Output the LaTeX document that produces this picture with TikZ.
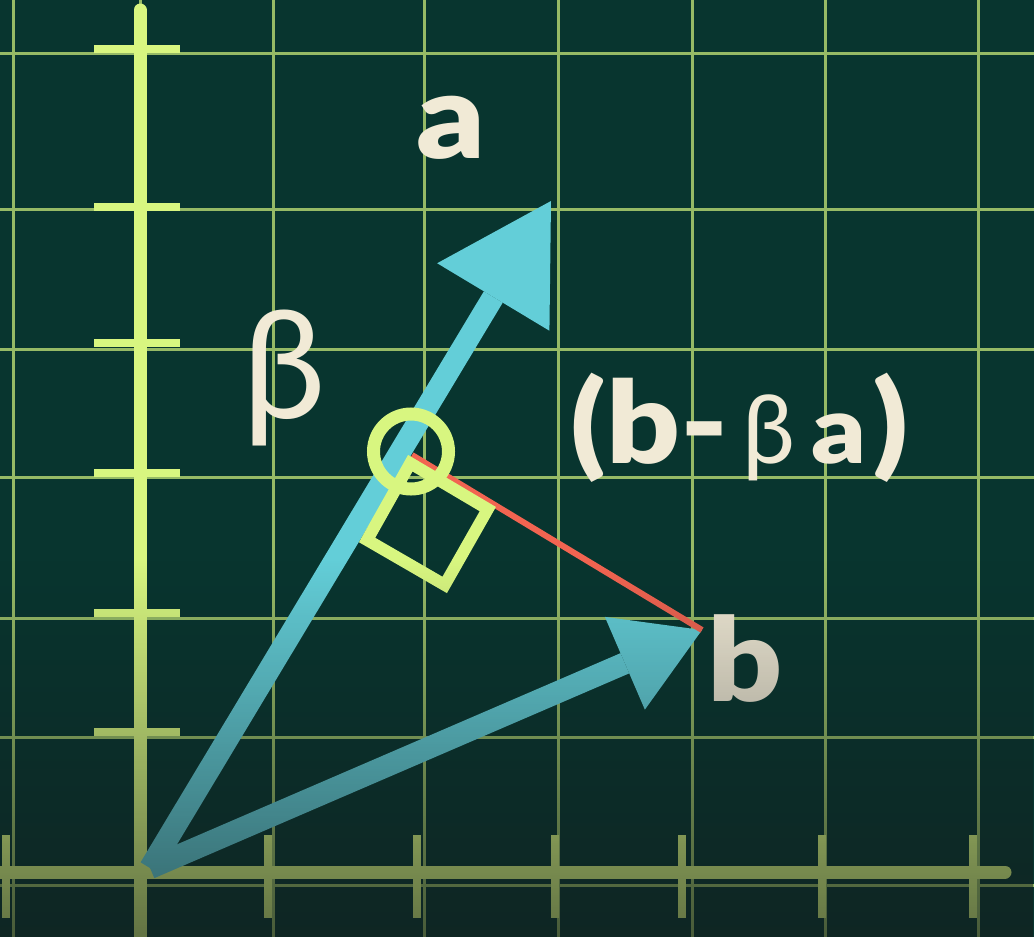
\documentclass[tikz,border=0pt]{standalone}
\usepackage{fontspec}
\usetikzlibrary{arrows.meta,fadings}
\newfontfamily\labfont{Lato}
\newfontfamily\heavyfont{Lato Black}[FakeStretch=1.13]
\definecolor{bgteal}{RGB}{8,53,47}
\definecolor{gridgreen}{RGB}{150,186,102}
\definecolor{axislime}{RGB}{216,246,128}
\definecolor{veccyan}{RGB}{99,206,216}
\definecolor{perpred}{RGB}{242,100,81}
\definecolor{labelcream}{RGB}{241,234,214}
\definecolor{shadedark}{RGB}{20,28,28}
\tikzfading[name=fadebottom, top color=transparent!100, bottom color=transparent!40]
\begin{document}
\begin{tikzpicture}[x=1pt, y=-1pt, every node/.style={text=labelcream, inner sep=0pt}]
  \tikzstyle{gridline}=[gridgreen, line width=3pt]
  \tikzstyle{axisline}=[axislime, line width=13pt, line cap=round]
  \tikzstyle{tickmark}=[axislime, line width=8pt]
  \tikzstyle{vecline}=[veccyan, line width=22pt]
  \tikzstyle{marker}=[axislime, line width=12pt]
  \useasboundingbox (0,0) rectangle (1034,937);
  \clip (0,0) rectangle (1034,937);
  \fill[bgteal] (0,0) rectangle (1034,937);
  % grid
  \foreach \gx in {13,140,273,424,558,692,825,978}
    \draw[gridline] (\gx,0) -- (\gx,937);
  \foreach \gy in {53,209,349,477,618,737,885}
    \draw[gridline] (0,\gy) -- (1034,\gy);
  % axes and ticks
  \draw[axisline] (140,10) -- (140,960);
  \draw[axisline] (-20,872) -- (1005,872);
  \foreach \ty in {49,207,343,473,613,732}
    \draw[tickmark] (94,\ty) -- (180,\ty);
  \foreach \tx in {6,268,417,555,682,822,973}
    \draw[tickmark] (\tx,835) -- (\tx,918);
  % vectors
  \coordinate (O) at (150,868);
  \coordinate (A) at (551,201);
  \coordinate (B) at (702,630);
  \coordinate (P) at (412,455);
  \draw[vecline, -{Triangle[length=112pt, width=131pt, line width=0pt]}] (O) -- (A);
  \draw[vecline, -{Triangle[length=84pt, width=101pt, line width=0pt]}] (O) -- (B);
  \draw[perpred, line width=6pt] (P) -- (B);
  \draw[marker] (410.3,463.2) -- (487.8,509.1) -- (444.7,584.9) -- (367.1,540) -- cycle;
  \draw[marker, line width=13pt] (411,451.5) circle (37.5pt);
  % labels
  \node[font=\heavyfont\fontsize{118}{118}\selectfont, anchor=base] (alabel) at (451,158) {a};
  \node[font=\heavyfont\fontsize{116}{116}\selectfont, anchor=base west] (blabel) at (707,701) {b};
  \node[font=\labfont\fontsize{150}{150}\selectfont] (betalabel) at (284,378) {β};
  \node[anchor=base west] (difflabel) at (570,463)
    {{\heavyfont\fontsize{114}{114}\selectfont(b-}\kern14pt{\labfont\fontsize{95}{95}\selectfont β}\kern16pt{\heavyfont\fontsize{94}{94}\selectfont a}\kern6pt{\heavyfont\fontsize{114}{114}\selectfont)}};
  % darker lower part
  \fill[shadedark, path fading=fadebottom] (0,560) rectangle (1034,937);
\end{tikzpicture}
\end{document}
